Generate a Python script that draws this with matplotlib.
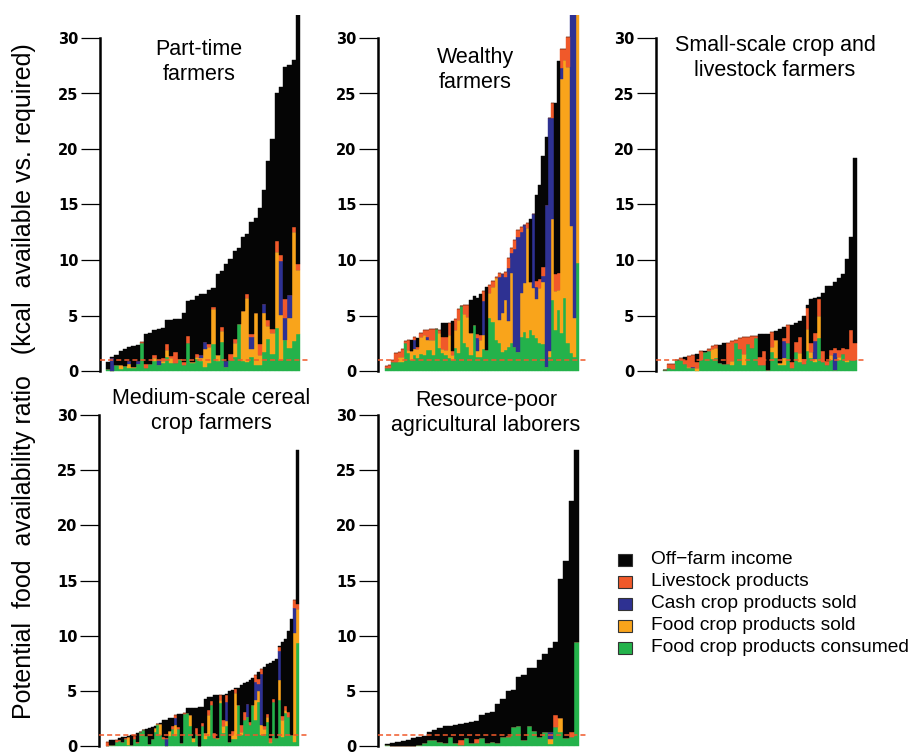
import matplotlib
matplotlib.use("Agg")
import matplotlib.pyplot as plt
from matplotlib.patches import Rectangle

plt.rcParams['font.family'] = ['Liberation Sans', 'DejaVu Sans']

# stack order, bottom to top
components = ['Food crop products consumed', 'Food crop products sold',
              'Cash crop products sold', 'Livestock products', 'Off\u2212farm income']
colors = ['#24B24B', '#F9A41B', '#2E3192', '#F0592A', '#050505']

titles = ['Part-time\nfarmers', 'Wealthy\nfarmers', 'Small-scale crop and\nlivestock farmers',
          'Medium-scale cereal\ncrop farmers', 'Resource-poor\nagricultural laborers']

# ---- Part-time farmers
p1_consumed = [.15, 0, .5, .2, .45, .3, .3, .66, 2.5, .3, .6, .9, .54, .75, 1.3, .7, .75, 1.0, .54, 2.5,
               .75, 1.05, .9, .4, .75, 2.43, .9, 2.6, .4, 1.0, 1.3, 4.23, .9, .8, 1.3, .54, .54, 1.7, 2.88, 1.5,
               3.87, 1.0, 2.8, 2.07, 2.7, 3.33]
p1_food_sold = [.05, 0, 0, .33, 0, .35, .1, 0, 0, 0, 0, .24, 0, .15, .6, .45, 0, .1, 0, 0,
                .1, .24, .24, 1.6, 1.38, 3.12, .54, 1.0, 0, 0, 1.26, 0, 4.53, 5.77, .65, 4.65, .9, 3.5, 1.17, 1.9,
                6.85, 4.05, 0, 2.7, 9.8, 5.77]
p1_cash = [0, 1.2, 0, 0, 0, .25, 0, .25, 0, 0, 0, 0, .45, 0, 0, 0, 0, 0, 0, 0,
           0, 0, .3, .6, 0, 0, 0, 0, .5, 0, 0, 0, 0, 0, 1.1, 0, 0, .84, 0, 0,
           0, 4.86, 2.0, 2.07, 0, 0]
p1_livestock = [0, 0, 0, 0, 0, 0, 0, 0, .1, .33, 0, .3, 0, .3, .54, .2, 1.0, 0, .25, .66,
                0, .24, 0, 0, .3, .18, 0, .33, 0, .54, .33, 0, 0, .36, .3, 0, 1.0, 0, .54, .36,
                1.0, .54, 1.7, 0, .45, .54]
p1_offfarm = [.64, .1, .95, 1.27, 1.55, 1.26, 1.82, 1.43, 0, 2.7, 2.82, 2.26, 2.81, 2.7, 2.16, 3.25, 2.95, 3.6, 4.41, 3.14,
              5.55, 5.22, 5.5, 4.34, 4.87, 1.75, 7.3, 5.07, 8.74, 8.56, 7.91, 6.85, 6.64, 5.41, 10.05, 8.61, 12.26, 10.26, 14.31, 17.14,
              13.28, 15.15, 20.9, 20.76, 15.05, 28.36]

# ---- Wealthy farmers
p2_consumed = [.3, .3, .85, .84, .84, .84, 2.5, 1.6, 1.0, 1.45, 1.15, 1.5, 1.45, 1.9, 1.9, 1.45, 3.75, 2.05, 1.6, 1.45,
               1.15, 1.0, 2.05, 1.6, 5.85, 2.5, 2.2, 1.45, 4.1, 1.3, 1.3, 2.0, 1.9, 4.8, 4.45, 2.8, 2.5, 1.75, 1.9, 2.2,
               2.5, 2.2, 1.75, 3.1, 3.55, 3.0, 3.7, 3.2, 3.0, 2.5, 2.4, .4, 1.3, 6.4, 3.7, 5.5, 3.4, 6.6, 2.5, 1.6,
               1.3, 9.7]
p2_food_sold = [0, 0, 0, 0, .45, .45, 0, .3, .8, .55, .85, 1.55, 1.8, .85, .9, 1.35, 0, 1.35, .4, .45,
                2.1, .45, 1.6, 3.0, 0, 2.65, 2.7, 2.0, 0, .5, 1.5, 1.2, 0, 2.2, 3.15, 5.55, 2.1, 3.5, 4.5, 2.3,
                6.3, 0, 0, 3.9, 4.35, 9.9, 4.35, 4.3, 3.5, 5.0, 5.6, 0, .5, 7.3, 3.5, 1.8, 22.9, 21.4, 24.9, 11.5,
                3.5, 26]
p2_cash = [0, 0, 0, 0, 0, 0, 0, 0, 0, .75, 0, 0, 0, .27, 0, 0, 0, 0, 0, 0,
           0, 0, 0, 0, 0, 0, 0, 0, 0, 1.2, 0, 3.15, 0, 0, 0, 0, 3.9, 3.5, 2.1, 4.8,
           1.85, 8.8, 10.35, 5.55, 5.25, 0, 0, 6.6, 1.05, 0, .6, 14.6, 21.0, 9.05, 0, 0, 1.0, 0, 0, 22,
           30, 0]
p2_livestock = [.15, .25, .15, .76, .45, .7, .2, .9, 0, .27, .2, .4, .4, .7, 1.0, 1.0, 0, .3, 1.1, 1.2,
                1.1, .36, 1.0, 1.0, 0, .8, 1.05, 0, 0, .3, .45, .85, 0, .75, .55, .15, .3, 0, .45, .9,
                .4, .8, .6, .45, 0, .4, 0, 0, .6, .8, .75, 0, 0, 1.35, 1.5, 1.5, 1.7, 1.0, 2.7, 0,
                0, 0]
p2_offfarm = [0, 0, 0, 0, 0, 0, 0, 0, 1.0, 0, .8, 0, 0, 0, 0, 0, 0, 0, 1.2, 1.2,
              0, 2.7, 0, 0, 0, 0, 0, 2.95, 2.7, 3.25, 3.7, 0, 5.65, 0, 0, 0, 0, 0, 0, 0,
              0, 0, 0, 0, 0, 0, 5.65, 0, 7.7, 8.5, 10.05, 6.1, 0, 0, 15.4, 19.1, 0, 0, 0, 0,
              0, 0]

# ---- Small-scale crop and livestock farmers
p3_consumed = [.1, .3, .2, 1.0, .95, .6, .3, .3, 0, 1.0, 1.7, 1.8, 1.1, 1.2, .7, .6, .6, .5, 2.5, 2.0,
               .5, 2.4, 2.1, 3.0, .5, .5, .1, 1.7, 1.2, .5, .5, 2.5, .3, 1.7, .8, .6, 1.8, 1.2, .8, 3.0,
               .8, .5, 1.0, .1, 1.0, 1.5, .8, 1.0, 1.0]
p3_food_sold = [0, 0, 0, 0, 0, 0, .05, 0, .3, 0, 0, 0, .9, .9, 0, 0, 0, .4, 0, 0,
                1.0, 0, 0, 0, 0, 0, 0, .45, 1.6, .2, .7, 0, 0, 0, .8, 0, 2.0, .5, .3, 2.0,
                0, 0, .4, 0, .3, 0, .2, 0, 0]
p3_cash = [0, 0, 0, 0, 0, 0, 0, .1, 0, 0, 0, 0, 0, 0, 0, 0, 0, 0, 0, 0,
           0, 0, 0, 0, 0, 0, 0, 0, 0, 0, 1.5, 0, 0, 0, 0, 0, 0, 0, 1.6, 0,
           0, 0, 0, 1.5, 0, 0, 0, 0, 0]
p3_livestock = [0, .3, .4, 0, .2, .35, 1.0, 1.05, .5, .8, 0, .15, .25, .25, 0, 0, 1.95, 1.8, .3, .95,
                1.53, .63, 1.02, .12, .75, 1.33, .03, 1.35, 0, 0, .26, 1.64, .5, .95, 1.5, .5, 1.9, .8, .75, 1.5,
                1.0, .4, .5, .5, .6, .55, 1.0, 2.7, 1.5]
p3_offfarm = [0, 0, 0, 0, 0, .28, 0, 0, .7, 0, .1, 0, 0, 0, 1.65, 1.95, 0, 0, 0, 0,
              0, 0, 0, 0, 2.08, 1.5, 3.2, 0, .83, 3.05, 1.0, 0, 3.34, 1.7, 1.4, 3.85, .25, 3.95, 3.1, .2,
              5.25, 6.75, 5.75, 5.95, 6.45, 6.69, 8.1, 8.4, 16.7]

# ---- Medium-scale cereal crop farmers
p4_consumed = [0, .05, .05, .35, .45, .4, .6, .1, .05, .6, .3, 1.3, 1.45, .9, .2, .6, 1.25, 1.9, 1.0, .6,
               0, .9, 1.5, .9, 1.5, .25, 2.9, 3.0, 1.8, .4, 1.1, 0, 1.8, .6, .9, 3.7, .75, .6, 3.9, 1.2,
               1.8, .4, .6, .65, 3.7, 1.0, 2.4, 2.6, 1.9, 3.7, 2.4, 4.0, 1.0, 1.1, 2.2, .3, 4.0, .7, 4.15, .8,
               3.0, 2.6, 1.0, .4, 9.3]
p4_food_sold = [0, 0, 0, 0, 0, 0, 0, .7, 0, 0, 0, 0, 0, 0, 0, 0, .4, .1, .95, 0,
                0, .45, 0, 1.0, 0, 0, 0, 0, 1.0, .3, 0, 0, 0, .6, 1.9, 0, 0, .1, .3, .6,
                .45, 0, .5, 4.2, 0, .3, 0, 0, 0, 0, 1.8, 1.0, .9, .4, .4, .1, 0, 0, 1.8, 1.6,
                .3, 0, 0, 9.8, 3.15]
p4_cash = [0, 0, 0, 0, 0, 0, 0, 0, 0, 0, 0, 0, 0, 0, 0, 0, 0, 0, 0, 0,
           .6, 0, 0, .6, 0, 0, 0, 0, 0, 0, 0, 0, 0, 0, 0, 0, 0, 0, 0, 0,
           1.75, 0, 0, 0, 0, 0, 0, 1.2, 0, 0, 1.6, .6, 4.6, 0, 0, 0, 0, 0, 2.65, 0,
           0, 0, 0, 2.3, 0]
p4_livestock = [.4, 0, 0, .2, .1, 0, .1, 0, 0, .3, .1, 0, 0, .05, 0, 0, 0, 0, 0, .2,
                .15, 0, .3, .3, .2, 0, .06, 0, 0, 0, .5, 0, .3, 0, .45, .4, .4, 0, .4, .6,
                .6, 0, .3, .3, 0, .6, .7, 0, .3, 0, .6, .5, .5, .3, .3, .3, .3, 0, .4, .3,
                .3, .5, 0, .7, .45]
p4_offfarm = [0, .45, .45, 0, .15, .4, .15, .1, .95, .1, .75, 0, 0, .55, 1.4, 1.1, .15, 0, .1, 1.55,
              1.65, 1.15, .77, 0, 1.2, 2.65, 0, .4, .6, 2.77, 1.87, 3.56, 1.46, 3.1, 1.15, .37, 3.45, 3.9, 0, 2.2,
              .1, 4.6, 3.7, .15, 1.6, 3.6, 2.6, 2.0, 3.8, 2.43, 0, .6, 0, 5.4, 4.5, 6.85, 3.43, 7.15, .06, 6.75,
              6.07, 7.3, 10.5, 0, 13.9]

# ---- Resource-poor agricultural laborers
p5_consumed = [.1, 0, 0, 0, 0, 0, .1, .3, .5, .5, .4, .3, .8, .3, .1, .7, .3, .3, .7, .3,
               .35, .3, .8, .8, 1.7, 1.85, .5, 1.8, 1.35, .8, 1.3, .2, 1.75, 1.3, .7, .8, 9.45]
p5_food_sold = [0, 0, 0, 0, 0, 0, 0, 0, 0, 0, 0, 0, 0, 0, 0, .05, 0, 0, 0, 0,
                0, 0, 0, 0, 0, 0, 0, 0, 0, 0, 0, .4, 0, 1.2, 0, 0, 0]
p5_cash = [0, 0, 0, 0, 0, 0, 0, 0, 0, 0, 0, 0, 0, 0, 0, 0, 0, 0, 0, 0,
           0, 0, 0, 0, 0, 0, 0, 0, 0, 0, 0, .7, 0, 0, 0, 0, 0]
p5_livestock = [0, 0, 0, 0, 0, 0, 0, 0, 0, 0, 0, 0, 0, 0, .45, 0, 0, .35, 0, 0,
                0, 0, 0, .15, 0, 0, 0, 0, 0, 0, 0, 0, 1.1, 0, 0, .45, 0]
p5_offfarm = [.05, .24, .39, .48, .54, .7, .75, .6, .74, .95, 1.2, 1.5, 1.05, 1.6, 1.41, 1.35, 1.85, 1.65, 2.1, 2.7,
              2.75, 3.5, 3.5, 4.05, 3.37, 4.45, 5.9, 5.3, 5.75, 7.0, 7.0, 7.6, 6.6, 12.6, 16.1, 20.95, 17.35]

panels = [
    [p1_consumed, p1_food_sold, p1_cash, p1_livestock, p1_offfarm],
    [p2_consumed, p2_food_sold, p2_cash, p2_livestock, p2_offfarm],
    [p3_consumed, p3_food_sold, p3_cash, p3_livestock, p3_offfarm],
    [p4_consumed, p4_food_sold, p4_cash, p4_livestock, p4_offfarm],
    [p5_consumed, p5_food_sold, p5_cash, p5_livestock, p5_offfarm],
]

W, H = 909, 752
YMIN, YMAX = -0.3, 32.1

# pixel layout: axis x, right edge, first bar x, last bar x, y of zero, px per unit
layout = [
    (100, 308, 106, 300, 371, 11.1),
    (378, 586, 385, 579, 371, 11.1),
    (656, 866, 663, 857, 371, 11.1),
    (99, 308, 106, 299, 746, 11.03),
    (378, 586, 385, 579, 746, 11.03),
]
title_pos = [(199, 62), (475, 70), (775, 58), (211, 411), (486, 413)]

fig = plt.figure(figsize=(W / 100, H / 100), dpi=100)

for parts, (al, ar, bl, br, y0, unit), title, (tx, ty) in zip(panels, layout, titles, title_pos):
    top = y0 - YMAX * unit
    bot = y0 - YMIN * unit
    ax = fig.add_axes([al / W, 1 - bot / H, (ar - al) / W, (bot - top) / H])
    n = len(parts[0])
    x = list(range(n))
    bottom = [0.0] * n
    for vals, c in zip(parts, colors):
        ax.bar(x, vals, width=1, bottom=bottom, align='edge', color=c, edgecolor=c, linewidth=0.3)
        bottom = [b + v for b, v in zip(bottom, vals)]
    s = (br - bl) / n
    ax.set_xlim(-(bl - al) / s, n + (ar - br) / s)
    ax.set_ylim(YMIN, YMAX)
    ax.axhline(1, color='#F0592A', lw=1.1, ls=(0, (3.3, 2)), zorder=5)

    for side in ['top', 'right', 'bottom']:
        ax.spines[side].set_visible(False)
    ax.spines['left'].set_bounds(0, 30)
    ax.spines['left'].set_linewidth(1.8)
    ax.set_xticks([])
    ax.set_yticks(range(0, 31, 5))
    ax.tick_params(axis='y', length=13.5, width=0.9, pad=2)
    for lab in ax.get_yticklabels():
        lab.set_family('DejaVu Sans')
        lab.set_fontweight('bold')
        lab.set_fontsize(10.5)

    fig.text(tx / W, 1 - ty / H, title, ha='center', va='center', fontsize=15.5, linespacing=1.25)

fig.text(24 / W, 1 - 381 / H,
         'Potential  food  availability ratio   (kcal  available vs. required)',
         rotation=90, ha='center', va='center', fontsize=18)

# legend
legend_rows = list(zip(components[::-1], colors[::-1]))
for i, (lab, c) in enumerate(legend_rows):
    yc = 560 + i * 21.9
    fig.add_artist(Rectangle((618 / W, 1 - (yc + 6) / H), 14 / W, 12 / H,
                             transform=fig.transFigure, facecolor=c, edgecolor='#333333', lw=0.8))
    fig.text(651 / W, 1 - yc / H, lab, ha='left', va='center', fontsize=13.75)

fig.savefig('out.png', dpi=100)
